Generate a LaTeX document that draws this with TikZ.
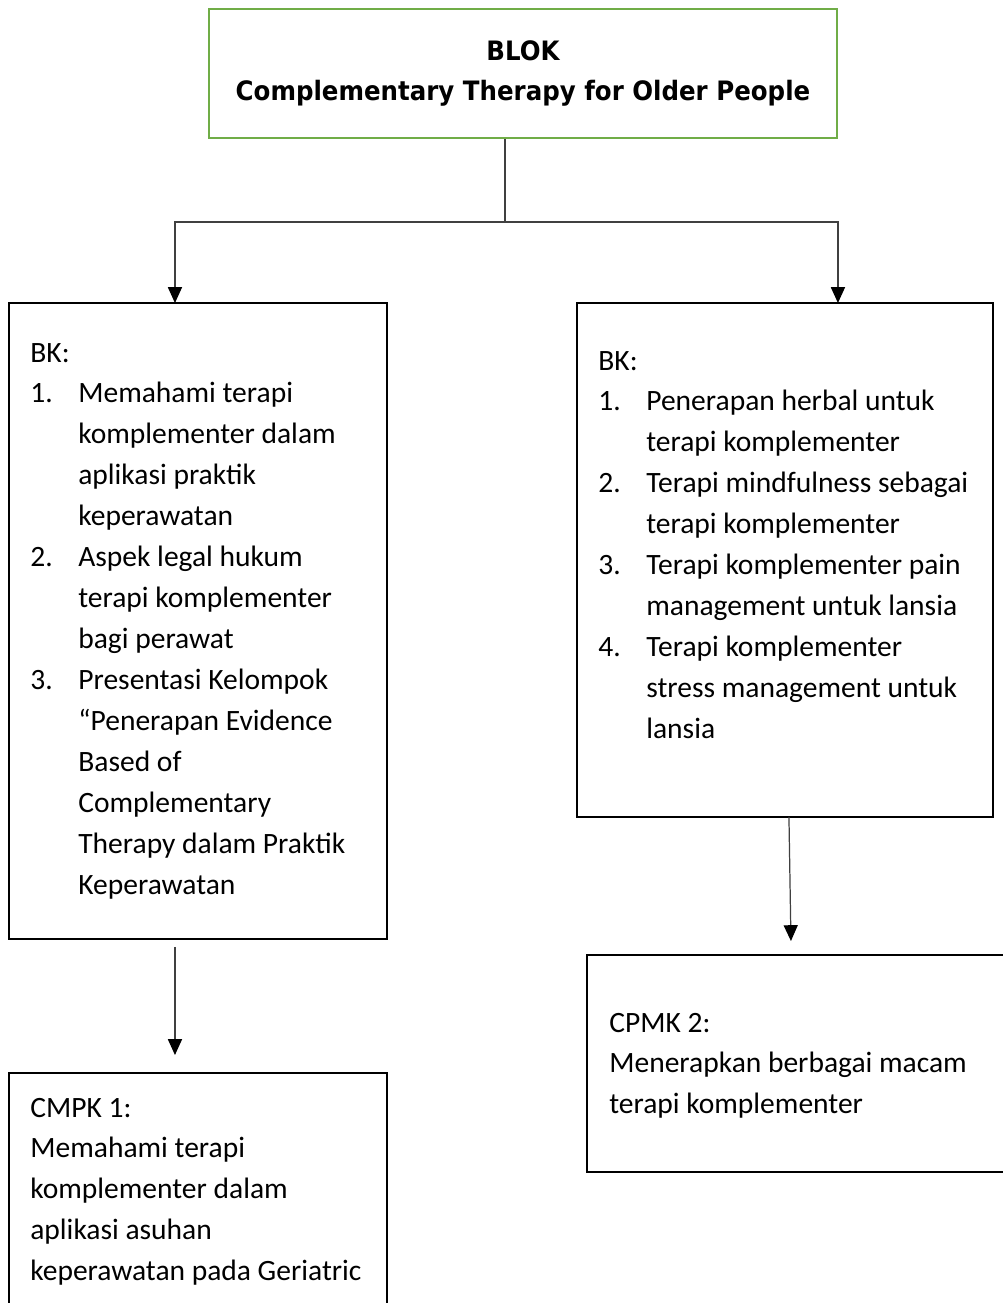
\documentclass[tikz,border=0pt]{standalone}
\usepackage{fontspec}
\setmainfont{Carlito}
\newfontfamily\titlefont[FakeStretch=0.917]{DejaVu Sans}
\usetikzlibrary{arrows.meta,positioning}
\definecolor{blokgreen}{HTML}{70AD47}
\newcommand{\itm}[1]{\makebox[0.96cm][l]{#1}}
\newcommand{\ind}{\hspace*{0.96cm}}

\begin{document}
\begin{tikzpicture}[x=0.02cm,y=-0.02cm,
		box/.style={draw=black,line width=1.1pt,anchor=north west,inner sep=0pt,outer sep=0pt},
		txt/.style={anchor=north west,align=left,inner sep=0pt,font=\fontsize{16.8}{23.3}\selectfont},
		link/.style={draw=black!75,line width=0.7pt},
		arr/.style={link,-{Triangle[width=8pt,length=9pt,color=black]}}]
			\clip(0,0)rectangle(1003,1303);
			% boxes
			\node[draw=blokgreen,line width=1.2pt,minimum width=12.56cm,minimum height=2.58cm,align=center,
				font=\titlefont\bfseries\fontsize{15.2}{22.8}\selectfont](blok)at(523,73.5)
				{BLOK\\Complementary Therapy for Older People};
			\node[box,minimum width=7.56cm,minimum height=12.72cm](bk1)at(9,303){};
			\node[box,minimum width=8.32cm,minimum height=10.28cm](bk2)at(577,303){};
			\node[box,minimum width=7.56cm,minimum height=4.94cm](cp1)at(9,1073){};
			\node[box,minimum width=8.46cm,minimum height=4.34cm](cp2)at(587,955){};
			% texts
			\node[txt](bk1txt)at([shift={(21,30)}]bk1.north west){\strut BK:\\
				\itm{1.}Memahami terapi\\ \ind komplementer dalam\\ \ind aplikasi praktik\\ \ind keperawatan\\
				\itm{2.}Aspek legal hukum\\ \ind terapi komplementer\\ \ind bagi perawat\\
				\itm{3.}Presentasi Kelompok\\ \ind “Penerapan Evidence\\ \ind Based of\\ \ind Complementary\\
				\ind Therapy dalam Praktik\\ \ind Keperawatan};
			\node[txt](bk2txt)at([shift={(21,38)}]bk2.north west){\strut BK:\\
				\itm{1.}Penerapan herbal untuk\\ \ind terapi komplementer\\
				\itm{2.}Terapi mindfulness sebagai\\ \ind terapi komplementer\\
				\itm{3.}Terapi komplementer pain\\ \ind management untuk lansia\\
				\itm{4.}Terapi komplementer\\ \ind stress management untuk\\ \ind lansia};
			\node[txt](cp1txt)at([shift={(21,15)}]cp1.north west){\strut CMPK 1:\\
				Memahami terapi\\ komplementer dalam\\ aplikasi asuhan\\ keperawatan pada Geriatric};
			\node[txt](cp2txt)at([shift={(22,48)}]cp2.north west){\strut CPMK 2:\\
				Menerapkan berbagai macam\\ terapi komplementer};
			% connectors
			\coordinate(split)at(505,222);
			\draw[link](split|-blok.south)--(split);
			\draw[arr](split)-|([xshift=3.32cm]bk1.north west);
			\draw[arr](split)-|([xshift=5.22cm]bk2.north west);
			\draw[arr]([xshift=3.32cm,yshift=-0.16cm]bk1.south west)--([xshift=3.32cm,yshift=0.36cm]cp1.north west);
			\draw[arr]([xshift=4.24cm]bk2.south west)--([xshift=4.08cm,yshift=0.28cm]cp2.north west);
		\end{tikzpicture}
\end{document}
